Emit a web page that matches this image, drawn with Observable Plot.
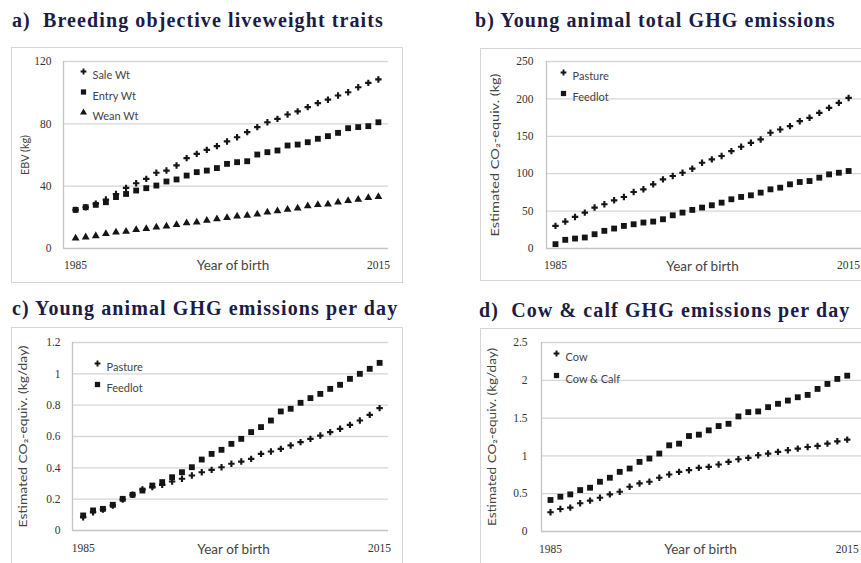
<!DOCTYPE html>
<html>
<head>
<meta charset="utf-8">
<script src="https://cdn.jsdelivr.net/npm/d3@7"></script>
<script src="https://cdn.jsdelivr.net/npm/@observablehq/plot@0.6"></script>
<style>
  html, body { margin: 0; padding: 0; background: #fff; }
  #root { position: relative; width: 861px; height: 563px; overflow: hidden; background: #fff; }
  .frame { position: absolute; box-sizing: border-box; border: 1.5px solid #d6d6d6; }
  .title { position: absolute; font-family: "Liberation Serif", "DejaVu Serif", serif; font-weight: bold;
           font-size: 20px; letter-spacing: 1.1px; color: #1c1c44; white-space: pre; line-height: 1; }
  .chart { position: absolute; }
</style>
</head>
<body>
<div id="root"></div>
<script>
// ---------- data ----------
const years = [1985,1986,1987,1988,1989,1990,1991,1992,1993,1994,1995,1996,1997,1998,1999,2000,
               2001,2002,2003,2004,2005,2006,2007,2008,2009,2010,2011,2012,2013,2014,2015];
const xTickYears = [1985, 2015];

const titles = [
  "a)  Breeding objective liveweight traits",
  "b) Young animal total GHG emissions",
  "c) Young animal GHG emissions per day",
  "d)  Cow & calf GHG emissions per day"
];

// a) EBV (kg)
const saleWt  = [24.8,26.5,28.7,31.4,35,38.9,41.9,44.7,48.6,50,53.3,58,60.7,63.3,65.7,68.7,71.4,74.7,77.9,81,83.2,86,88,90.7,93.3,95.5,98.2,100.3,103.5,106.3,108.5];
const entryWt = [24.8,26.5,28,29.7,33,35,37.2,38.7,40.4,43,44.3,46.8,49,50,51.6,54.3,55.4,56,60.3,61.8,62.9,66.1,66.7,68.2,70.4,72.1,74.2,77.2,77.9,78.5,81];
const weanWt  = [6.6,7.3,8.1,9.4,10.5,10.9,12,12.6,13.7,14.3,15.2,16.3,16.9,18,19,19.7,20.7,21.2,22,23.3,24,25,25.9,27.2,28,28.4,29.7,30.6,31.4,32.5,33.2];

// b) total CO2-equiv (kg)
const totalPasture = [30.2,36,42.2,48,54.7,59.1,64.4,68.9,75.6,79.1,85.8,92.4,96.9,101.3,106.7,114.7,119.1,123.6,130.2,136,141.3,145.8,154.7,159.1,163.6,170.2,174.7,181.3,188,194.7,201.3];
const totalFeedlot = [5.8,11.6,13.3,14.7,19.1,23.6,26.7,30.2,32.4,34.7,36,39.1,44.4,48,51.6,54.7,57.8,61.3,65.8,68.9,71.1,74.7,79.1,81.3,85.8,88.9,90.2,94.7,99.1,101.3,103.6];

// c) per day CO2-equiv (kg/day)
const dayPasture = [0.085,0.117,0.134,0.16,0.198,0.228,0.262,0.277,0.291,0.313,0.33,0.351,0.372,0.387,0.404,0.426,0.44,0.457,0.489,0.504,0.521,0.543,0.564,0.585,0.606,0.628,0.649,0.674,0.702,0.738,0.781];
const dayFeedlot = [0.096,0.128,0.138,0.164,0.202,0.228,0.255,0.287,0.309,0.34,0.372,0.404,0.453,0.489,0.515,0.553,0.585,0.628,0.66,0.702,0.76,0.777,0.815,0.845,0.872,0.904,0.93,0.968,1.0,1.032,1.07];

// d) cow & calf per day (kg/day)
const cowDay     = [0.254,0.298,0.316,0.373,0.408,0.447,0.491,0.526,0.592,0.636,0.658,0.711,0.754,0.789,0.811,0.842,0.855,0.886,0.921,0.956,0.974,1.009,1.031,1.053,1.075,1.096,1.118,1.132,1.162,1.193,1.215];
const cowCalfDay = [0.417,0.46,0.491,0.548,0.579,0.658,0.711,0.789,0.833,0.921,0.965,1.031,1.14,1.162,1.263,1.281,1.338,1.395,1.425,1.522,1.579,1.588,1.645,1.689,1.732,1.776,1.807,1.886,1.952,2.018,2.061];

const yTicksA = [0, 40, 80, 120];
const yTicksB = [0, 50, 100, 150, 200, 250];
const yTicksC = [0, 0.2, 0.4, 0.6, 0.8, 1, 1.2];
const yTicksD = [0, 0.5, 1, 1.5, 2, 2.5];

const xLabel = "Year of birth";
const yLabels = ["EBV (kg)", "Estimated CO\u2082-equiv. (kg)", "Estimated CO\u2082-equiv. (kg/day)", "Estimated CO\u2082-equiv. (kg/day)"];

// ---------- drawing ----------
const root = document.getElementById("root");
const SERIF = "'Liberation Serif', 'DejaVu Serif', serif";
const SANS = "Lato, 'Open Sans', sans-serif";
const MARK = "#151515";

function sym(kind) {
  if (kind === "plus") return {symbol: "cross", r: 2.7};
  if (kind === "square") return {symbol: "square", r: 3.3};
  return {symbol: "triangle", r: 2.9};
}

function panel(cfg) {
  const [xl, xt, w, h] = cfg.box;
  const [mt, mr, mb, ml] = cfg.margins;
  const marks = [
    Plot.gridY(cfg.yTicks.slice(1), {stroke: "#d6d6d6", strokeOpacity: 1, strokeWidth: 1.3}),
    Plot.ruleY([cfg.yTicks[0]], {stroke: "#c4c4c4", strokeWidth: 1.3}),
    Plot.ruleX([cfg.xDomain[0]], {stroke: "#c4c4c4", strokeWidth: 1.3}),
    Plot.axisY({ticks: cfg.yTicks, tickSize: 0, tickPadding: cfg.yPad, label: null,
                tickFormat: d => String(d), fontFamily: SERIF, fontSize: 11.5, fill: "#333"}),
    Plot.axisX({ticks: xTickYears, tickSize: 0, tickPadding: cfg.xPad, label: null,
                tickFormat: d => String(d), fontFamily: SERIF, fontSize: 11.5, fill: "#333"}),
    Plot.text([cfg.yLabel], {frameAnchor: "left", dx: -cfg.yLabelOff, rotate: -90,
                fontFamily: SANS, fontSize: 11.5, fill: "#444"}),
    Plot.text([xLabel], {frameAnchor: "bottom", dx: cfg.xLabelDx, dy: cfg.xLabelDy,
                fontFamily: SANS, fontSize: 13.5, fill: "#444"})
  ];
  cfg.series.forEach((s, k) => {
    const data = years.map((yr, i) => ({year: yr, v: s.values[i]}));
    const sp = sym(s.kind);
    marks.push(Plot.dot(data, {x: "year", y: "v", symbol: () => sp.symbol, r: sp.r, fill: MARK, stroke: "none"}));
    const dy = cfg.legend.dy0 + k * cfg.legend.gap;
    marks.push(Plot.dot([s.name], {frameAnchor: "top-left", dx: cfg.legend.dx, dy, symbol: () => sp.symbol, r: sp.r * 0.9, fill: MARK, stroke: "none"}));
    marks.push(Plot.text([s.name], {frameAnchor: "top-left", dx: cfg.legend.dx + cfg.legend.textDx, dy,
                 text: d => d, textAnchor: "start", fontFamily: SANS, fontSize: 11, fill: "#444"}));
  });
  const chart = Plot.plot({
    width: w, height: h,
    marginTop: mt, marginRight: mr, marginBottom: mb, marginLeft: ml,
    x: {domain: cfg.xDomain},
    y: {domain: [cfg.yTicks[0], cfg.yTicks[cfg.yTicks.length - 1]]},
    symbol: {type: "identity"},
    style: {background: "transparent", overflow: "visible"},
    marks
  });
  // condense the rotated y label to the reference's narrow width, kept centred
  chart.querySelectorAll("text").forEach(t => {
    if (t.textContent === cfg.yLabel) {
      t.setAttribute("text-anchor", "start");
      t.setAttribute("x", -cfg.yLabelLen / 2);
      t.setAttribute("textLength", cfg.yLabelLen);
      t.setAttribute("lengthAdjust", "spacingAndGlyphs");
    }
  });
  chart.classList.add("chart");
  chart.style.left = xl + "px";
  chart.style.top = xt + "px";

  const fr = document.createElement("div");
  fr.className = "frame";
  const [fl, ft, fw, fh] = cfg.frame;
  Object.assign(fr.style, {left: fl + "px", top: ft + "px", width: fw + "px", height: fh + "px"});
  root.appendChild(fr);
  root.appendChild(chart);

  const t = document.createElement("div");
  t.className = "title";
  t.textContent = cfg.title;
  t.style.left = cfg.titlePos[0] + "px";
  t.style.top = cfg.titlePos[1] + "px";
  root.appendChild(t);
}

panel({
  title: titles[0], titlePos: [12, 10],
  frame: [11, 47, 392, 236],
  box: [11, 47, 391, 235], margins: [14, 14, 34, 52],
  xDomain: [1983.8, 2016], yTicks: yTicksA, yPad: 12, xPad: 12,
  yLabel: yLabels[0], yLabelOff: 38, yLabelLen: 40,
  xLabelDx: 7, xLabelDy: 21,
  legend: {dx: 20, dy0: 10, gap: 20.5, textDx: 9},
  series: [
    {name: "Sale Wt", values: saleWt, kind: "plus"},
    {name: "Entry Wt", values: entryWt, kind: "square"},
    {name: "Wean Wt", values: weanWt, kind: "triangle"}
  ]
});

panel({
  title: titles[1], titlePos: [475, 10],
  frame: [480, 48, 420, 233],
  box: [480, 48, 400, 232], margins: [13, 14, 32, 66],
  xDomain: [1984.08, 2016.83], yTicks: yTicksB, yPad: 13, xPad: 12,
  yLabel: yLabels[1], yLabelOff: 51, yLabelLen: 163,
  xLabelDx: -4, xLabelDy: 22,
  legend: {dx: 17, dy0: 11, gap: 21, textDx: 9},
  series: [
    {name: "Pasture", values: totalPasture, kind: "plus"},
    {name: "Feedlot", values: totalFeedlot, kind: "square"}
  ]
});

panel({
  title: titles[2], titlePos: [12, 298],
  frame: [11, 327, 392, 260],
  box: [11, 327, 391, 236], margins: [15, 14, 33, 61],
  xDomain: [1983.92, 2015.9], yTicks: yTicksC, yPad: 12, xPad: 13,
  yLabel: yLabels[2], yLabelOff: 49, yLabelLen: 182,
  xLabelDx: 3, xLabelDy: 23,
  legend: {dx: 25, dy0: 21, gap: 21, textDx: 9},
  series: [
    {name: "Pasture", values: dayPasture, kind: "plus"},
    {name: "Feedlot", values: dayFeedlot, kind: "square"}
  ]
});

panel({
  title: titles[3], titlePos: [479, 300],
  frame: [480, 328, 420, 260],
  box: [480, 328, 400, 235], margins: [14, 14, 32, 61],
  xDomain: [1984.09, 2016.95], yTicks: yTicksD, yPad: 14, xPad: 13,
  yLabel: yLabels[3], yLabelOff: 49, yLabelLen: 178,
  xLabelDx: -3.5, xLabelDy: 22,
  legend: {dx: 15, dy0: 11, gap: 22, textDx: 9},
  series: [
    {name: "Cow", values: cowDay, kind: "plus"},
    {name: "Cow & Calf", values: cowCalfDay, kind: "square"}
  ]
});
</script>
</body>
</html>
